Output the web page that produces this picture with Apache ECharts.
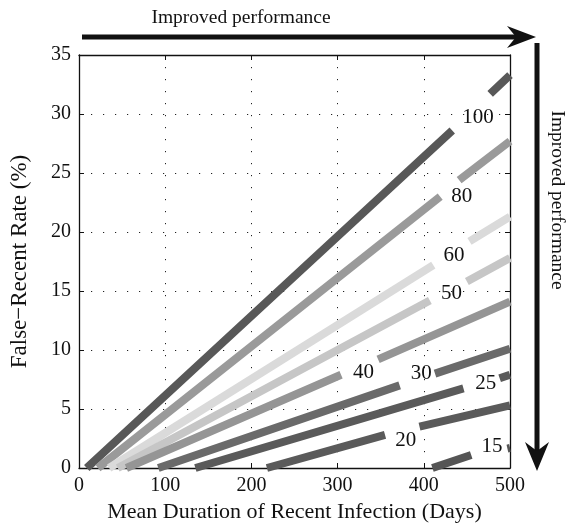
<!DOCTYPE html>
<html>
<head>
<meta charset="utf-8">
<script src="https://cdn.jsdelivr.net/npm/echarts@6/dist/echarts.min.js"></script>
<style>
  html, body { margin: 0; background: #fff; }
  #chart { width: 567px; height: 531px; }
</style>
</head>
<body>
<div id="chart"></div>
<script>
// contour levels, top to bottom
const levels = ['100', '80', '60', '50', '40', '30', '25', '20', '15'];

// points; null = gap where the label sits
const x100 = [9, 433, null, 477, 500];
const y100 = [0, 28.6, null, 31.7, 33.3];
const x80 = [22, 419, null, 441, 500];
const y80 = [0, 23.0, null, 24.4, 27.7];
const x60 = [35, 411, null, 453, 500];
const y60 = [0, 17.2, null, 19.2, 21.3];
const x50 = [45, 407, null, 450, 500];
const y50 = [0, 14.2, null, 15.8, 17.8];
const x40 = [55, 304, null, 347, 500];
const y40 = [0, 7.9, null, 9.2, 14.1];
const x30 = [92, 372, null, 413, 500];
const y30 = [0, 7.0, null, 8.0, 10.1];
const x25 = [135, 446, null, 488, 500];
const y25 = [0, 6.75, null, 7.6, 7.9];
const x20 = [218, 355, null, 395, 500];
const y20 = [0, 2.8, null, 3.5, 5.3];
const x15 = [410, 455, null, 497, 500];
const y15 = [0, 1.1, null, 1.65, 1.7];

// where the level labels sit
const labelX = [463, 444, 435, 432, 330, 397, 472, 379, 479];
const labelY = [29.7, 23.0, 18.0, 14.8, 8.1, 8.0, 7.2, 2.3, 1.8];

const xTicks = [0, 100, 200, 300, 400, 500];
const yTicks = [0, 5, 10, 15, 20, 25, 30, 35];

const lineXs = [x100, x80, x60, x50, x40, x30, x25, x20, x15];
const lineYs = [y100, y80, y60, y50, y40, y30, y25, y20, y15];
const shades = ['#585858', '#9a9a9a', '#dadada', '#c6c6c6', '#959595', '#6a6a6a', '#5a5a5a', '#5a5a5a', '#555555'];

const FONT = 'Liberation Serif';

const chart = echarts.init(document.getElementById('chart'));

const lineSeries = levels.map((lv, i) => ({
  name: lv,
  type: 'line',
  showSymbol: false,
  symbol: 'none',
  connectNulls: false,
  animation: false,
  lineStyle: { width: 8, color: shades[i], cap: 'butt' },
  data: lineXs[i].map((x, j) => x === null ? ['-', '-'] : [x, lineYs[i][j]]),
  z: 3
}));

// level labels as plain text at their data positions
const labelSeries = {
  type: 'custom',
  animation: false,
  silent: true,
  data: levels.map((lv, i) => [labelX[i], labelY[i], lv]),
  renderItem: (params, api) => {
    const pt = api.coord([api.value(0), api.value(1)]);
    return {
      type: 'text',
      x: pt[0], y: pt[1],
      style: {
        text: levels[params.dataIndex],
        font: '21px "Liberation Serif"',
        fill: '#111',
        align: 'center',
        verticalAlign: 'middle'
      }
    };
  },
  z: 5
};

const axisCommon = {
  type: 'value',
  axisLine: { show: true, onZero: false, lineStyle: { color: '#111', width: 1.3 } },
  axisTick: { show: true, inside: true, length: 5, lineStyle: { color: '#111', width: 1 } },
};

const option = {
  backgroundColor: '#fff',
  animation: false,
  grid: { left: 79, right: 57, top: 55, bottom: 63 },
  xAxis: [
    Object.assign({}, axisCommon, {
      min: xTicks[0], max: xTicks[xTicks.length - 1], interval: 100,
      name: 'Mean Duration of Recent Infection (Days)',
      nameLocation: 'middle',
      nameGap: 33,
      nameTextStyle: { fontFamily: FONT, fontSize: 22, color: '#111' },
      axisLabel: { fontFamily: FONT, fontSize: 20, color: '#111', margin: 8 },
      splitLine: { show: true, lineStyle: { color: '#222', width: 1, type: [1.2, 10.8] } }
    }),
    Object.assign({}, axisCommon, {
      position: 'top',
      min: xTicks[0], max: xTicks[xTicks.length - 1], interval: 100,
      axisLabel: { show: false },
      splitLine: { show: false }
    })
  ],
  yAxis: [
    Object.assign({}, axisCommon, {
      min: yTicks[0], max: yTicks[yTicks.length - 1], interval: 5,
      name: 'False\u2212Recent Rate (%)',
      nameLocation: 'middle',
      nameGap: 48,
      nameTextStyle: { fontFamily: FONT, fontSize: 23, color: '#111' },
      axisLabel: { fontFamily: FONT, fontSize: 20, color: '#111', margin: 8 },
      splitLine: { show: true, lineStyle: { color: '#222', width: 1, type: [1.2, 10.8] } }
    }),
    Object.assign({}, axisCommon, {
      position: 'right',
      min: yTicks[0], max: yTicks[yTicks.length - 1], interval: 5,
      axisLabel: { show: false },
      splitLine: { show: false }
    })
  ],
  graphic: [
    // top arrow
    { type: 'line', shape: { x1: 82, y1: 37, x2: 522, y2: 37 },
      style: { stroke: '#111', lineWidth: 5 } },
    { type: 'polygon', shape: { points: [[536, 37], [507, 26], [516, 37], [507, 48]] },
      style: { fill: '#111' } },
    { type: 'text', x: 241, y: 18,
      style: { text: 'Improved performance', font: '19.5px "Liberation Serif"', fill: '#111',
               align: 'center', verticalAlign: 'middle' } },
    // right arrow
    { type: 'line', shape: { x1: 537, y1: 43, x2: 537, y2: 458 },
      style: { stroke: '#111', lineWidth: 5 } },
    { type: 'polygon', shape: { points: [[537, 471], [525, 442], [537, 451], [549, 442]] },
      style: { fill: '#111' } },
    { type: 'text', x: 557, y: 200, rotation: -Math.PI / 2,
      style: { text: 'Improved performance', font: '19.5px "Liberation Serif"', fill: '#111',
               align: 'center', verticalAlign: 'middle' } }
  ],
  series: lineSeries.concat([labelSeries])
};

chart.setOption(option);
window.addEventListener('resize', () => chart.resize());
</script>
</body>
</html>
